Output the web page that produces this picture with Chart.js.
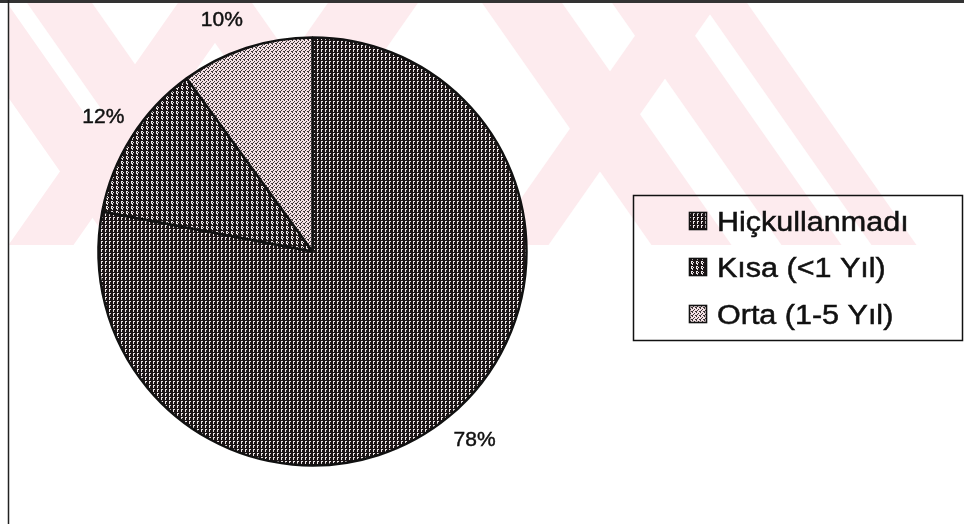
<!DOCTYPE html>
<html><head><meta charset="utf-8">
<script src="https://cdn.jsdelivr.net/npm/chart.js@4"></script>
<style>html,body{margin:0;padding:0;background:#fff}#wrap{width:964px;height:524px;position:relative}</style>
</head><body><div id="wrap"><canvas id="c" width="964" height="524"></canvas></div>
<script>
// ---- data ----
const categories = ['Hiçkullanmadı', 'Kısa (<1 Yıl)', 'Orta (1-5 Yıl)'];
const shares = [78, 12, 10];
const percentLabels = ['78%', '12%', '10%'];

// ---- fill patterns (scanned hatching look) ----
function makePattern(map, dark, light) {
  const h = map.length, w = map[0].length;
  const t = document.createElement('canvas');
  t.width = w; t.height = h;
  const c = t.getContext('2d');
  for (let y = 0; y < h; y++) for (let x = 0; x < w; x++) {
    c.fillStyle = map[y][x] === '#' ? dark : light;
    c.fillRect(x, y, 1, 1);
  }
  return document.getElementById('c').getContext('2d').createPattern(t, 'repeat');
}
const patHic = makePattern(['####', '#..#', '#.##', '#.##'], '#1c1516', '#ece6e7');
const patKisa = makePattern(['#####', '#..##', '#.#.#', '#..##', '##.##'], '#1c1516', '#ece6e7');
const patOrta = makePattern(['#...', '..#.', '.#..', '#..#'], '#3c3436', '#f3e1e4');
const fills = [patHic, patKisa, patOrta];

// ---- background: watermark bands + frame ----
const bgPlugin = {
  id: 'bg',
  beforeDraw(chart) {
    const ctx = chart.ctx;
    ctx.save();
    ctx.fillStyle = '#ffffff';
    ctx.fillRect(0, 0, chart.width, chart.height);
    ctx.beginPath();
    ctx.rect(9, 3, chart.width - 9, 242);
    ctx.clip();
    ctx.fillStyle = '#fdebee';
    const H = 245, k = 0.7 * H;
    // [x-left at top, x-right at top, direction (+1 = down-right, -1 = down-left)]
    const bands = [[25, 90, 1], [185, 250, 1], [180, 245, -1], [330, 420, -1], [-60, 5, 1],
                   [480, 560, 1], [660, 720, -1], [610, 670, 1], [700, 745, 1]];
    bands.forEach(([a, b, d]) => {
      ctx.beginPath();
      ctx.moveTo(a, 0); ctx.lineTo(b, 0);
      ctx.lineTo(b + d * k, H); ctx.lineTo(a + d * k, H);
      ctx.closePath(); ctx.fill();
    });
    ctx.restore();
    ctx.save();
    ctx.strokeStyle = '#333';
    ctx.lineWidth = 3;
    ctx.beginPath(); ctx.moveTo(0, 1.5); ctx.lineTo(chart.width, 1.5); ctx.stroke();
    ctx.lineWidth = 1.5;
    ctx.strokeStyle = '#222';
    ctx.beginPath(); ctx.moveTo(8.5, 0); ctx.lineTo(8.5, chart.height); ctx.stroke();
    ctx.restore();
  }
};

// ---- percent labels outside slices ----
const labelPlugin = {
  id: 'pctLabels',
  afterDatasetsDraw(chart) {
    const ctx = chart.ctx;
    const arcs = chart.getDatasetMeta(0).data;
    const nudgeDeg = [-1.1, 0.3, -3.4];
    ctx.save();
    ctx.font = '21px "Liberation Sans", Arial, sans-serif';
    ctx.fillStyle = '#111';
    ctx.strokeStyle = '#111';
    ctx.lineWidth = 0.45;
    ctx.textAlign = 'center';
    ctx.textBaseline = 'middle';
    arcs.forEach((arc, i) => {
      const p = arc.getProps(['x', 'y', 'startAngle', 'endAngle', 'outerRadius'], true);
      const a = (p.startAngle + p.endAngle) / 2 + nudgeDeg[i] * Math.PI / 180;
      const R = p.outerRadius + 34.5;
      const x = p.x + R * Math.cos(a), y = p.y + R * Math.sin(a);
      ctx.fillText(percentLabels[i], x, y);
      ctx.strokeText(percentLabels[i], x, y);
    });
    ctx.restore();
  }
};

// ---- boxed legend ----
const legendPlugin = {
  id: 'boxLegend',
  afterDraw(chart) {
    const ctx = chart.ctx;
    ctx.save();
    ctx.strokeStyle = '#111';
    ctx.lineWidth = 1.5;
    ctx.strokeRect(633.5, 195.5, 329, 145);
    const rowY = [221, 267, 314];
    categories.forEach((name, i) => {
      const y = rowY[i];
      ctx.fillStyle = fills[i];
      ctx.fillRect(689, y - 9, 18, 18);
      ctx.lineWidth = 1.6;
      ctx.strokeStyle = '#111';
      ctx.strokeRect(689.5, y - 8.5, 17, 17);
      ctx.save();
      ctx.translate(717, y);
      ctx.scale(1.13, 1);
      ctx.font = '27px "Liberation Sans", Arial, sans-serif';
      ctx.fillStyle = '#111';
      ctx.strokeStyle = '#111';
      ctx.lineWidth = 0.5;
      ctx.textAlign = 'left';
      ctx.textBaseline = 'alphabetic';
      ctx.fillText(name, 0, 9.5);
      ctx.strokeText(name, 0, 9.5);
      ctx.restore();
    });
    ctx.restore();
  }
};

new Chart(document.getElementById('c'), {
  type: 'pie',
  data: {
    labels: categories,
    datasets: [{
      data: shares,
      backgroundColor: fills,
      borderColor: '#111',
      borderWidth: 2.5,
      hoverOffset: 0,
      radius: 214
    }]
  },
  options: {
    responsive: false,
    animation: false,
    events: [],
    layout: { padding: { left: 92.5, top: 31.5, right: 431.5, bottom: 52.5 } },
    plugins: { legend: { display: false }, tooltip: { enabled: false } }
  },
  plugins: [bgPlugin, labelPlugin, legendPlugin]
});
</script>
</body></html>
